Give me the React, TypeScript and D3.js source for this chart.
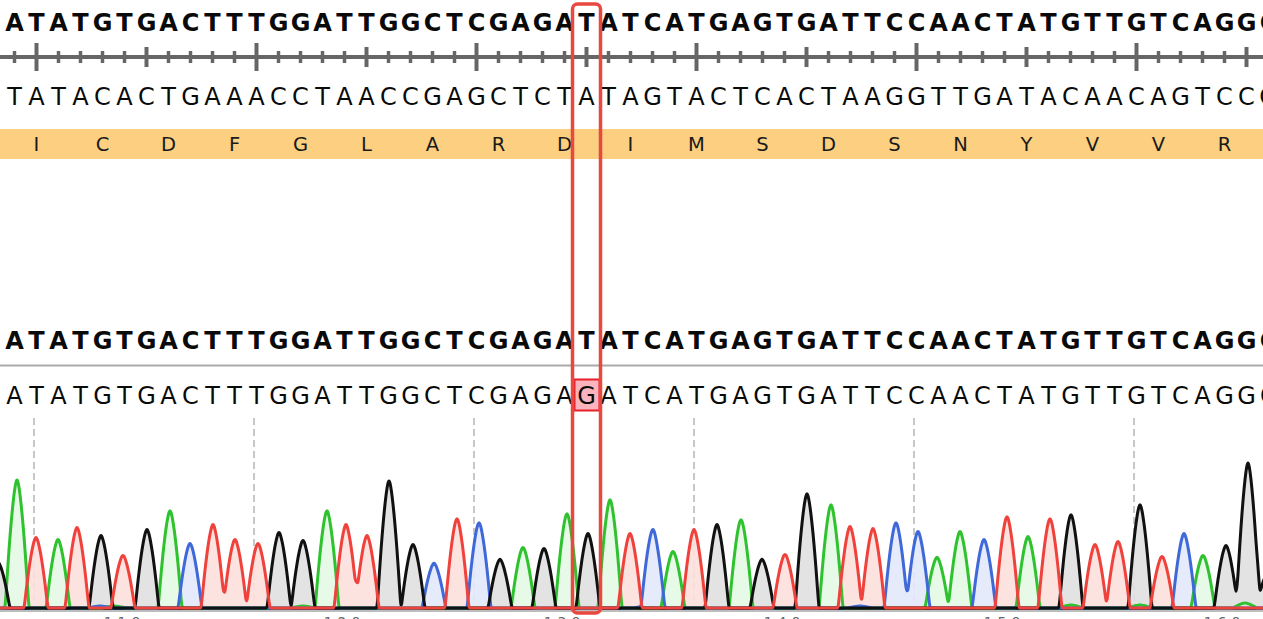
import React from "react";
import * as d3 from "d3";

const WIDTH = 1263;
const HEIGHT = 619;

const referenceBases = "ATATGTGACTTTGGATTGGCTCGAGATATCATGAGTGATTCCAACTATGTTGTCAGGC".split("");
const complementBases = "TATACACTGAAACCTAACCGAGCTCTATAGTACTCACTAAGGTTGATACAACAGTCCG".split("");
const sampleBases = "ATATGTGACTTTGGATTGGCTCGAGAGATCATGAGTGATTCCAACTATGTTGTCAGGC".split("");
const aminoAcids = "ICDFGLARDIMSDSNYVVR".split("");
const mismatchIndex = 26;

const axisLabels = [110, 120, 130, 140, 150, 160];

type Peak = [number, number];
const greenPeaks: Peak[] = [[17,129],[58,69],[170,98],[327,98],[523,61],[567,95],[610,109],[673,57],[741,89],[831,104],[937,51],[960,77],[1028,72],[1203,53],[114,2],[303,2],[1071,3],[1140,3],[1245,5]];
const bluePeaks: Peak[] = [[190,65],[434,45],[479,86],[653,78],[896,86],[918,77],[984,69],[1184,75],[100,2],[646,2],[860,2]];
const blackPeaks: Peak[] = [[-2,46],[101,73],[147,79],[279,76],[303,68],[389,128],[413,64],[500,49],[544,60],[588,75],[717,84],[762,49],[807,115],[1071,94],[1140,104],[1226,63],[1248,146],[1268,35]];
const redPeaks: Peak[] = [[36,71],[77,81],[123,53],[213,84],[235,69],[258,65],[346,84],[367,73],[457,90],[630,75],[694,79],[785,54],[850,82],[873,80],[1007,92],[1050,90],[1095,64],[1118,67],[1162,52]];

const channels = [
  { name: "green", peaks: greenPeaks, stroke: "#2fc22f", fill: "#e4f8e4" },
  { name: "blue", peaks: bluePeaks, stroke: "#3f68d8", fill: "#e2e9fb" },
  { name: "black", peaks: blackPeaks, stroke: "#111111", fill: "#e0e0e0" },
  { name: "red", peaks: redPeaks, stroke: "#f0423c", fill: "#fde0dc" },
];

const FONT = "'DejaVu Sans', Verdana, sans-serif";
const HALF_BASE = 11.8;

export default function App() {
  const baseX = d3.scaleLinear().domain([0, 1]).range([14.5, 36.5]);
  const traceX = d3.scaleLinear().domain([0, WIDTH]).range([0, WIDTH]);
  const traceY = d3.scaleLinear().domain([0, 150]).range([608, 458]);

  const samples = d3.range(-6, WIDTH + 7);
  const intensity = (peaks: Peak[], s: number) =>
    d3.sum(peaks, ([p, h]) => {
      const u = Math.abs(s - p) / HALF_BASE;
      return u < 1 ? h * (1 - Math.pow(u, 1.55)) : 0;
    });

  const ticks = d3.range(0, referenceBases.length);
  const gridIdx = ticks.filter((i) => i % 10 === 1);

  const renderRow = (bases: string[], y: number, weight: string, key: string) =>
    bases.map((b, i) => (
      <text key={key + i} x={baseX(i)} y={y} textAnchor="middle" fontFamily={FONT}
        fontWeight={weight} fontSize={24} fill="#0a0a0a">{b}</text>
    ));

  return (
    <svg width={WIDTH} height={HEIGHT} style={{ position: "absolute", left: 0, top: 0, background: "#fff" }}>
      {renderRow(referenceBases, 31, "bold", "r")}

      <line x1={0} x2={WIDTH} y1={57} y2={57} stroke="#666" strokeWidth={4} />
      {ticks.map((i) => {
        const half = i % 10 === 1 ? 14 : i % 5 === 1 ? 10 : 6;
        return (
          <line key={"t" + i} x1={baseX(i)} x2={baseX(i)} y1={57 - half} y2={57 + half}
            stroke="#666" strokeWidth={(i - 1) % 5 === 0 ? 4 : 3.5} />
        );
      })}

      {renderRow(complementBases, 105, "normal", "c")}

      <rect x={0} y={129} width={WIDTH} height={30} fill="#fdcf80" />
      {aminoAcids.map((a, i) => (
        <text key={"a" + i} x={baseX(1 + i * 3)} y={151} textAnchor="middle" fontFamily={FONT}
          fontSize={19.5} fill="#1a1a1a">{a}</text>
      ))}

      {renderRow(referenceBases, 349, "bold", "r2")}
      <line x1={0} x2={WIDTH} y1={365.5} y2={365.5} stroke="#aaa" strokeWidth={2} />

      <rect x={baseX(mismatchIndex) - 12} y={379.5} width={25} height={31} fill="#fbb4bd" stroke="#e8202a" strokeWidth={2} />
      {renderRow(sampleBases, 404, "normal", "s")}

      {gridIdx.map((i) => (
        <line key={"g" + i} x1={baseX(i) - 2.5} x2={baseX(i) - 2.5} y1={418} y2={608}
          stroke="#c8c8c8" strokeWidth={2} strokeDasharray="7 4" />
      ))}

      {channels.map((c) => {
        const area = d3.area<number>().x((s) => traceX(s)).y0(traceY(0)).y1((s) => traceY(intensity(c.peaks, s))).curve(d3.curveBasis);
        return <path key={"f" + c.name} d={area(samples) || ""} fill={c.fill} fillOpacity={0.9} />;
      })}
      <line x1={0} x2={WIDTH} y1={611} y2={611} stroke="#bdbdbd" strokeWidth={2} />
      <line x1={0} x2={WIDTH} y1={609} y2={609} stroke="#111" strokeWidth={2} />
      {channels.map((c) => {
        const line = d3.line<number>().x((s) => traceX(s)).y((s) => traceY(intensity(c.peaks, s))).curve(d3.curveBasis);
        return <path key={"l" + c.name} d={line(samples) || ""} fill="none" stroke={c.stroke} strokeWidth={3} strokeLinejoin="round" />;
      })}

      {axisLabels.map((label, i) => (
        <text key={"x" + label} x={baseX(5 + i * 10)} y={627} textAnchor="middle" fontFamily={FONT}
          fontSize={14} letterSpacing={5} fill="#666">{label}</text>
      ))}

      <rect x={572.5} y={4} width={28} height={609} rx={5} ry={5} fill="none" stroke="#e8483f" strokeWidth={3.5} />
    </svg>
  );
}
